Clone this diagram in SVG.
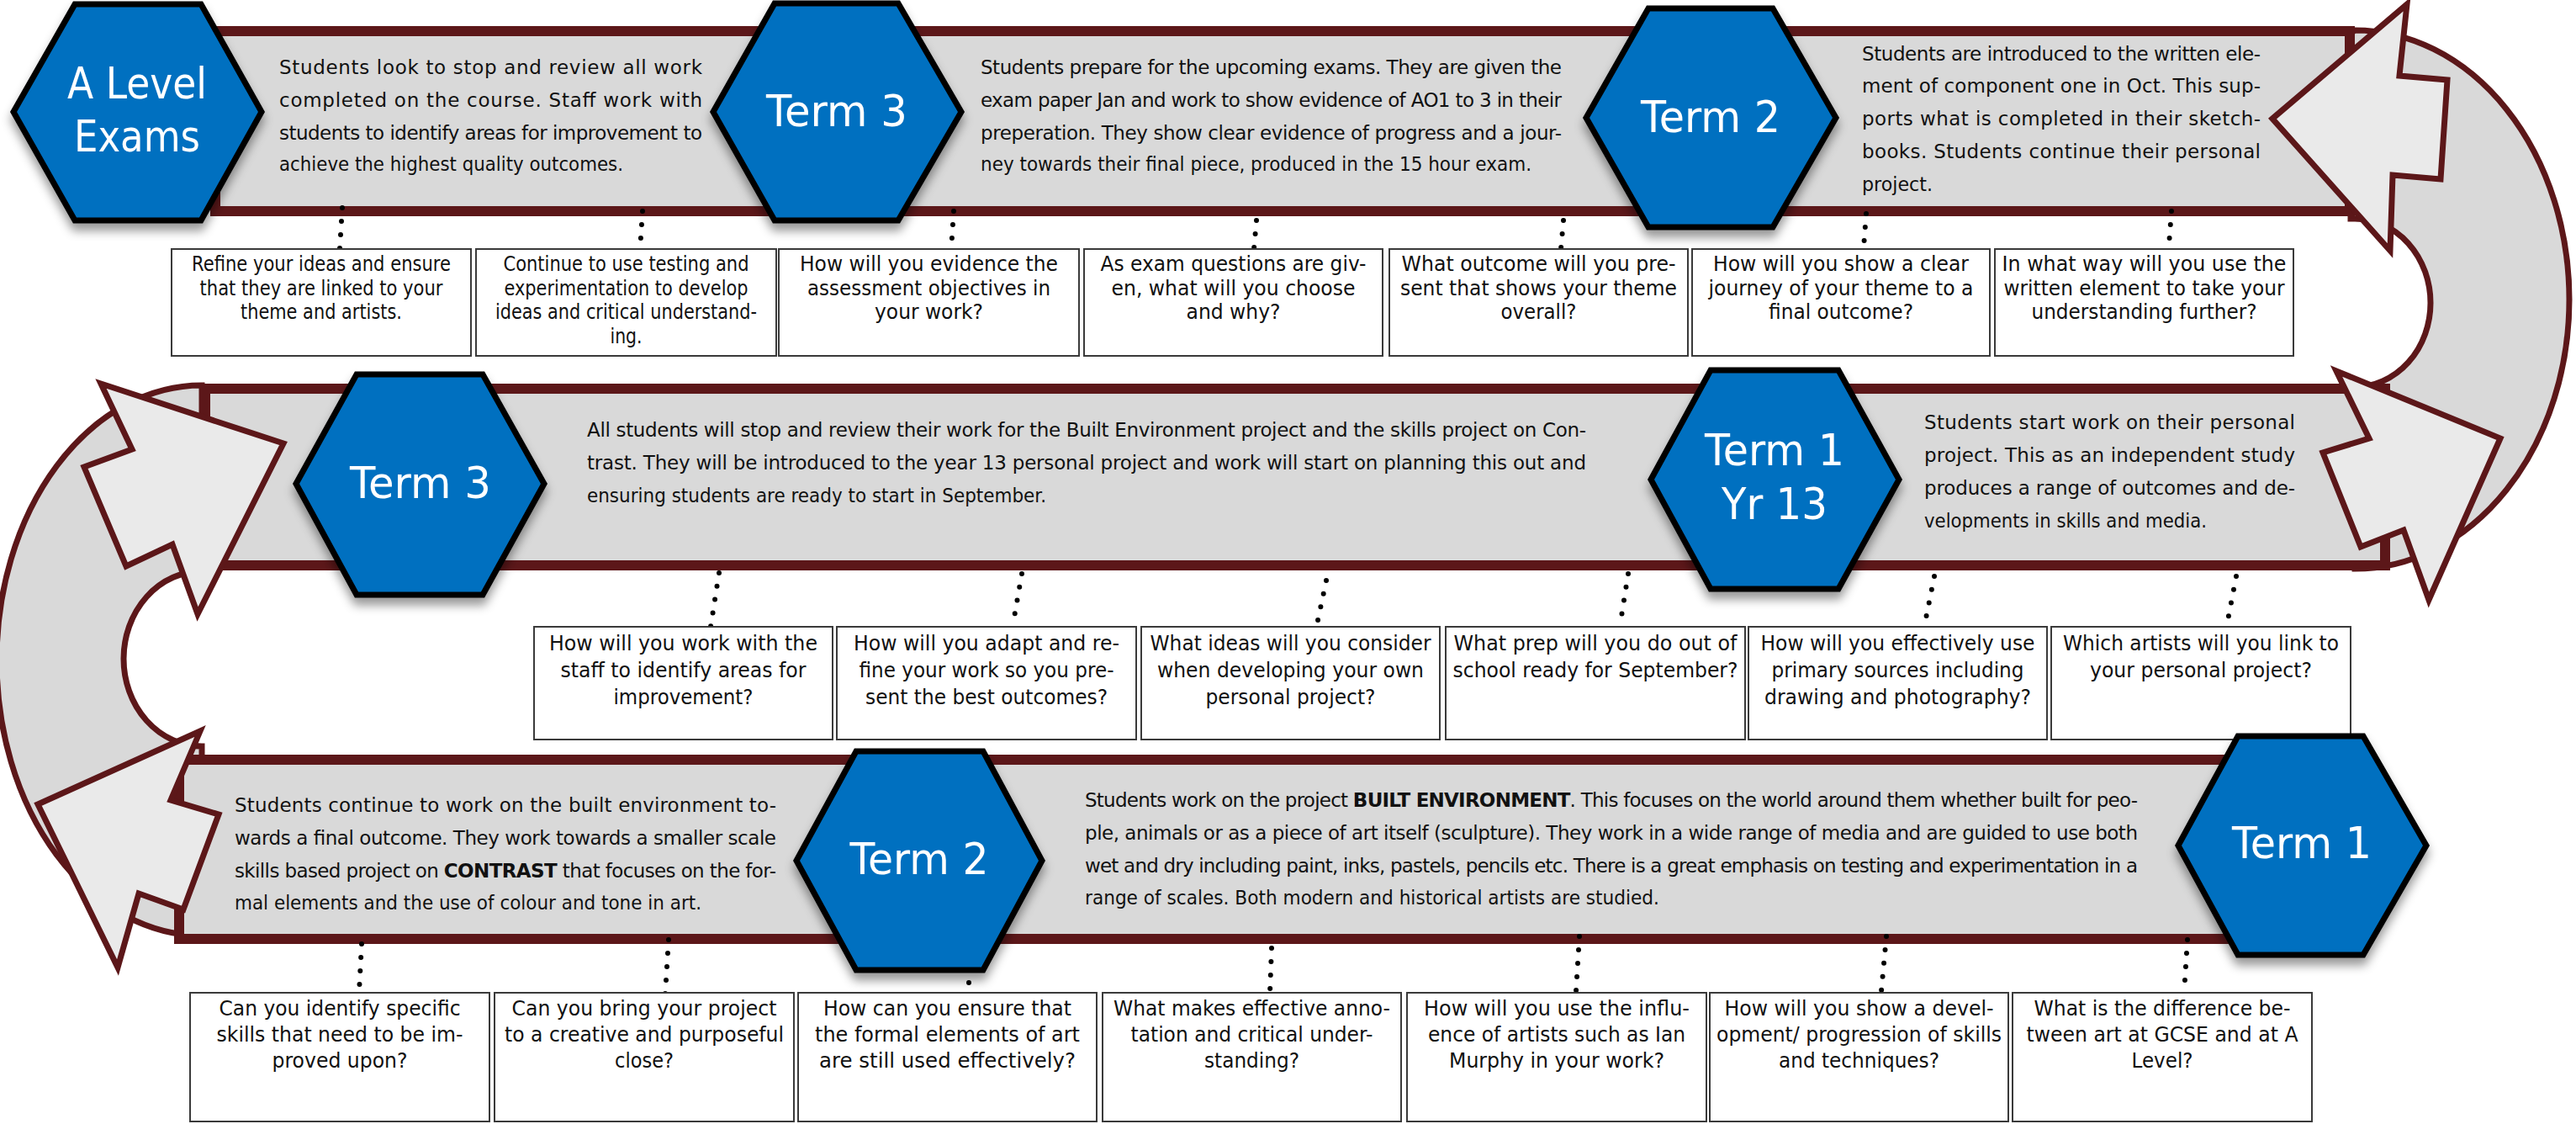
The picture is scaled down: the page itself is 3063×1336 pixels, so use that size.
<svg xmlns="http://www.w3.org/2000/svg" width="3063" height="1336" viewBox="0 0 3063 1336">
<defs>
<style>
.band{fill:#D9D9D9;stroke:#5C1719;stroke-width:12}
.curve{fill:#D9D9D9;stroke:#5C1719;stroke-width:7}
.arrow{fill:#EAEAEA;stroke:#5C1719;stroke-width:7;stroke-linejoin:miter}
.hex{fill:#0070C0;stroke:#000;stroke-width:7;filter:url(#sh)}
.ht{font-family:'DejaVu Sans','Liberation Sans',sans-serif;font-size:52px;fill:#fff;text-anchor:middle}
.bt text{font-family:'DejaVu Sans','Liberation Sans',sans-serif;font-size:23px;fill:#111}
.box{fill:#fff;stroke:#3a3a3a;stroke-width:2}
.q text{font-family:'DejaVu Sans','Liberation Sans',sans-serif;font-size:25px;fill:#111;text-anchor:middle}
.dots{stroke:#000;stroke-width:6;stroke-linecap:round;stroke-dasharray:0 16;fill:none}
</style>
<filter id="sh" x="-20%" y="-20%" width="140%" height="150%">
<feDropShadow dx="0" dy="9" stdDeviation="6" flood-color="#000" flood-opacity="0.4"/>
</filter>
</defs>
<rect width="3063" height="1336" fill="#fff"/>

<g id="curves">
<path class="curve" d="M 2795,40 L 2800,36 A 255,320 0 0 1 2800,676 L 2800,460 A 90,100 0 0 0 2800,260 L 2795,260 Z"/>
<path class="curve" d="M 240,458 A 244,327 0 0 0 240,1112 L 240,887 A 93,104 0 0 1 240,679 Z"/>
</g>

<g id="row1-band"><rect class="band" x="256" y="37" width="2538" height="214"/></g>
<g id="row2-band"><rect class="band" x="244" y="462" width="2592" height="210"/></g>
<g id="row3-band"><rect class="band" x="213" y="903" width="2441" height="213"/></g>

<g id="text-alevel" class="bt">
<text x="332" y="88" textLength="503" lengthAdjust="spacing">Students look to stop and review all work</text>
<text x="332" y="127" textLength="503" lengthAdjust="spacing">completed on the course.  Staff work with</text>
<text x="332" y="166" textLength="503" lengthAdjust="spacing">students to identify areas for improvement to</text>
<text x="332" y="203" textLength="409" lengthAdjust="spacingAndGlyphs">achieve the highest quality outcomes.</text>
</g>
<g id="text-term3-y13" class="bt">
<text x="1166" y="88" textLength="691" lengthAdjust="spacing">Students prepare for the upcoming exams.  They are given the</text>
<text x="1166" y="127" textLength="691" lengthAdjust="spacing">exam paper Jan and work to show evidence of AO1 to 3 in their</text>
<text x="1166" y="166" textLength="691" lengthAdjust="spacing">preperation.  They show clear evidence of progress and a jour-</text>
<text x="1166" y="203" textLength="655" lengthAdjust="spacingAndGlyphs">ney towards their final piece, produced in the 15 hour exam.</text>
</g>
<g id="text-term2-y13" class="bt">
<text x="2214" y="72" textLength="474" lengthAdjust="spacing">Students are introduced to the written ele-</text>
<text x="2214" y="110" textLength="474" lengthAdjust="spacing">ment of component one in Oct.  This sup-</text>
<text x="2214" y="149" textLength="474" lengthAdjust="spacing">ports what is completed in their sketch-</text>
<text x="2214" y="188" textLength="474" lengthAdjust="spacing">books.  Students continue their personal</text>
<text x="2214" y="227" textLength="84" lengthAdjust="spacingAndGlyphs">project.</text>
</g>
<g id="text-term3-y12" class="bt">
<text x="698" y="519" textLength="1188" lengthAdjust="spacing">All students will stop and review their work for the Built Environment project and the skills project on Con-</text>
<text x="698" y="558" textLength="1188" lengthAdjust="spacing">trast.   They will be introduced to the year 13 personal project and work will start on planning this out and</text>
<text x="698" y="597" textLength="546" lengthAdjust="spacingAndGlyphs">ensuring students are ready to start in September.</text>
</g>
<g id="text-term1-y13" class="bt">
<text x="2288" y="510" textLength="441" lengthAdjust="spacing">Students start work on their personal</text>
<text x="2288" y="549" textLength="441" lengthAdjust="spacing">project.   This as an independent study</text>
<text x="2288" y="588" textLength="441" lengthAdjust="spacing">produces a range of outcomes and de-</text>
<text x="2288" y="627" textLength="336" lengthAdjust="spacingAndGlyphs">velopments in skills and media.</text>
</g>
<g id="text-term2-y12" class="bt">
<text x="279" y="965" textLength="644" lengthAdjust="spacing">Students continue to work on the built environment to-</text>
<text x="279" y="1004" textLength="644" lengthAdjust="spacing">wards a final outcome.  They work towards a smaller scale</text>
<text x="279" y="1043" textLength="644" lengthAdjust="spacing">skills based project on <tspan font-weight="bold">CONTRAST</tspan> that focuses on the for-</text>
<text x="279" y="1081" textLength="555" lengthAdjust="spacingAndGlyphs">mal elements and the use of colour and tone in art.</text>
</g>
<g id="text-term1-y12" class="bt">
<text x="1290" y="959" textLength="1252" lengthAdjust="spacing">Students work on the project <tspan font-weight="bold">BUILT ENVIRONMENT</tspan>.  This focuses on the world around them whether built for peo-</text>
<text x="1290" y="998" textLength="1252" lengthAdjust="spacing">ple, animals or as a piece of art itself (sculpture).  They work in a wide range of media and are guided to use both</text>
<text x="1290" y="1037" textLength="1252" lengthAdjust="spacing">wet and dry including paint, inks, pastels, pencils etc.  There is a great emphasis on testing and experimentation in a</text>
<text x="1290" y="1075" textLength="683" lengthAdjust="spacingAndGlyphs">range of scales.  Both modern and historical artists are studied.</text>
</g>

<g id="arrows">
<polygon class="arrow" points="2702,141 2862,5 2853,90 2910,95 2902,213 2845,208 2842,298"/>
<polygon class="arrow" points="2778,441 2973,521 2888,713 2858,630 2807,650 2762,538 2817,521"/>
<polygon class="arrow" points="120,456 337,527 235,730 205,647 150,673 100,555 157,534"/>
<polygon class="arrow" points="238,869 45,956 140,1150 165,1062 218,1081 260,968 203,951"/>
</g>

<g id="connectors" class="dots">
<line x1="407" y1="247" x2="404" y2="295"/>
<line x1="764" y1="251" x2="761" y2="297"/>
<line x1="1134" y1="251" x2="1131" y2="297"/>
<line x1="1494" y1="262" x2="1491" y2="296"/>
<line x1="1859" y1="262" x2="1856" y2="296"/>
<line x1="2219" y1="254" x2="2216" y2="294"/>
<line x1="2582" y1="251" x2="2579" y2="291"/>
<line x1="855" y1="681" x2="845" y2="745"/>
<line x1="1215" y1="682" x2="1204" y2="745"/>
<line x1="1577" y1="690" x2="1566" y2="742"/>
<line x1="1936" y1="682" x2="1926" y2="745"/>
<line x1="2300" y1="685" x2="2288" y2="745"/>
<line x1="2659" y1="685" x2="2649" y2="737"/>
<line x1="430" y1="1122" x2="427" y2="1179"/>
<line x1="795" y1="1117" x2="791" y2="1181"/>
<line x1="1155" y1="1104" x2="1152" y2="1168"/>
<line x1="1512" y1="1127" x2="1510" y2="1180"/>
<line x1="1878" y1="1113" x2="1874" y2="1178"/>
<line x1="2243" y1="1113" x2="2237" y2="1178"/>
<line x1="2601" y1="1117" x2="2597" y2="1180"/>
</g>

<g id="q-r1-1" class="q"><rect class="box" x="204" y="296" width="356" height="127"/>
<text x="382" y="322" textLength="308" lengthAdjust="spacingAndGlyphs">Refine your ideas and ensure</text>
<text x="382" y="350.5" textLength="289" lengthAdjust="spacingAndGlyphs">that they are linked to your</text>
<text x="382" y="379" textLength="192" lengthAdjust="spacingAndGlyphs">theme and artists.</text></g>
<g id="q-r1-2" class="q"><rect class="box" x="566" y="296" width="357" height="127"/>
<text x="744.5" y="322" textLength="292" lengthAdjust="spacingAndGlyphs">Continue to use testing and</text>
<text x="744.5" y="350.5" textLength="290" lengthAdjust="spacingAndGlyphs">experimentation to develop</text>
<text x="744.5" y="379" textLength="311" lengthAdjust="spacingAndGlyphs">ideas and critical understand-</text>
<text x="744.5" y="407.5" textLength="38" lengthAdjust="spacingAndGlyphs">ing.</text></g>
<g id="q-r1-3" class="q"><rect class="box" x="926" y="296" width="357" height="127"/>
<text x="1104.5" y="322" textLength="307" lengthAdjust="spacingAndGlyphs">How will you evidence the</text>
<text x="1104.5" y="350.5" textLength="289" lengthAdjust="spacingAndGlyphs">assessment objectives in</text>
<text x="1104.5" y="379" textLength="129" lengthAdjust="spacingAndGlyphs">your work?</text></g>
<g id="q-r1-4" class="q"><rect class="box" x="1289" y="296" width="355" height="127"/>
<text x="1466.5" y="322" textLength="316" lengthAdjust="spacingAndGlyphs">As exam questions are giv-</text>
<text x="1466.5" y="350.5" textLength="290" lengthAdjust="spacingAndGlyphs">en, what will you choose</text>
<text x="1466.5" y="379" textLength="112" lengthAdjust="spacingAndGlyphs">and why?</text></g>
<g id="q-r1-5" class="q"><rect class="box" x="1652" y="296" width="355" height="127"/>
<text x="1829.5" y="322" textLength="326" lengthAdjust="spacingAndGlyphs">What outcome will you pre-</text>
<text x="1829.5" y="350.5" textLength="329" lengthAdjust="spacingAndGlyphs">sent that shows your theme</text>
<text x="1829.5" y="379" textLength="90" lengthAdjust="spacingAndGlyphs">overall?</text></g>
<g id="q-r1-6" class="q"><rect class="box" x="2012" y="296" width="354" height="127"/>
<text x="2189" y="322" textLength="304" lengthAdjust="spacingAndGlyphs">How will you show a clear</text>
<text x="2189" y="350.5" textLength="315" lengthAdjust="spacingAndGlyphs">journey of your theme to a</text>
<text x="2189" y="379" textLength="172" lengthAdjust="spacingAndGlyphs">final outcome?</text></g>
<g id="q-r1-7" class="q"><rect class="box" x="2372" y="296" width="355" height="127"/>
<text x="2549.5" y="322" textLength="338" lengthAdjust="spacingAndGlyphs">In what way will you use the</text>
<text x="2549.5" y="350.5" textLength="334" lengthAdjust="spacingAndGlyphs">written element to take your</text>
<text x="2549.5" y="379" textLength="268" lengthAdjust="spacingAndGlyphs">understanding further?</text></g>

<g id="q-r2-1" class="q"><rect class="box" x="635" y="745" width="355" height="134"/>
<text x="812.5" y="773" textLength="319" lengthAdjust="spacingAndGlyphs">How will you work with the</text>
<text x="812.5" y="805" textLength="292" lengthAdjust="spacingAndGlyphs">staff to identify areas for</text>
<text x="812.5" y="836.5" textLength="166" lengthAdjust="spacingAndGlyphs">improvement?</text></g>
<g id="q-r2-2" class="q"><rect class="box" x="995" y="745" width="356" height="134"/>
<text x="1173" y="773" textLength="316" lengthAdjust="spacingAndGlyphs">How will you adapt and re-</text>
<text x="1173" y="805" textLength="303" lengthAdjust="spacingAndGlyphs">fine your work so you pre-</text>
<text x="1173" y="836.5" textLength="288" lengthAdjust="spacingAndGlyphs">sent the best outcomes?</text></g>
<g id="q-r2-3" class="q"><rect class="box" x="1357" y="745" width="355" height="134"/>
<text x="1534.5" y="773" textLength="334" lengthAdjust="spacingAndGlyphs">What ideas will you consider</text>
<text x="1534.5" y="805" textLength="317" lengthAdjust="spacingAndGlyphs">when developing your own</text>
<text x="1534.5" y="836.5" textLength="202" lengthAdjust="spacingAndGlyphs">personal project?</text></g>
<g id="q-r2-4" class="q"><rect class="box" x="1719" y="745" width="356" height="134"/>
<text x="1897" y="773" textLength="337" lengthAdjust="spacingAndGlyphs">What prep will you do out of</text>
<text x="1897" y="805" textLength="339" lengthAdjust="spacingAndGlyphs">school ready for September?</text></g>
<g id="q-r2-5" class="q"><rect class="box" x="2079" y="745" width="355" height="134"/>
<text x="2256.5" y="773" textLength="326" lengthAdjust="spacingAndGlyphs">How will you effectively use</text>
<text x="2256.5" y="805" textLength="300" lengthAdjust="spacingAndGlyphs">primary sources including</text>
<text x="2256.5" y="836.5" textLength="317" lengthAdjust="spacingAndGlyphs">drawing and photography?</text></g>
<g id="q-r2-6" class="q"><rect class="box" x="2439" y="745" width="356" height="134"/>
<text x="2617" y="773" textLength="328" lengthAdjust="spacingAndGlyphs">Which artists will you link to</text>
<text x="2617" y="805" textLength="264" lengthAdjust="spacingAndGlyphs">your personal project?</text></g>

<g id="q-r3-1" class="q"><rect class="box" x="226" y="1180" width="356" height="153"/>
<text x="404" y="1207" textLength="287" lengthAdjust="spacingAndGlyphs">Can you identify specific</text>
<text x="404" y="1238" textLength="293" lengthAdjust="spacingAndGlyphs">skills that need to be im-</text>
<text x="404" y="1269" textLength="161" lengthAdjust="spacingAndGlyphs">proved upon?</text></g>
<g id="q-r3-2" class="q"><rect class="box" x="588" y="1180" width="356" height="153"/>
<text x="766" y="1207" textLength="315" lengthAdjust="spacingAndGlyphs">Can you bring your project</text>
<text x="766" y="1238" textLength="332" lengthAdjust="spacingAndGlyphs">to a creative and purposeful</text>
<text x="766" y="1269" textLength="70" lengthAdjust="spacingAndGlyphs">close?</text></g>
<g id="q-r3-3" class="q"><rect class="box" x="949" y="1180" width="355" height="153"/>
<text x="1126.5" y="1207" textLength="295" lengthAdjust="spacingAndGlyphs">How can you ensure that</text>
<text x="1126.5" y="1238" textLength="315" lengthAdjust="spacingAndGlyphs">the formal elements of art</text>
<text x="1126.5" y="1269" textLength="305" lengthAdjust="spacingAndGlyphs">are still used effectively?</text></g>
<g id="q-r3-4" class="q"><rect class="box" x="1311" y="1180" width="355" height="153"/>
<text x="1488.5" y="1207" textLength="329" lengthAdjust="spacingAndGlyphs">What makes effective anno-</text>
<text x="1488.5" y="1238" textLength="288" lengthAdjust="spacingAndGlyphs">tation and critical under-</text>
<text x="1488.5" y="1269" textLength="113" lengthAdjust="spacingAndGlyphs">standing?</text></g>
<g id="q-r3-5" class="q"><rect class="box" x="1673" y="1180" width="356" height="153"/>
<text x="1851" y="1207" textLength="316" lengthAdjust="spacingAndGlyphs">How will you use the influ-</text>
<text x="1851" y="1238" textLength="306" lengthAdjust="spacingAndGlyphs">ence of artists such as Ian</text>
<text x="1851" y="1269" textLength="256" lengthAdjust="spacingAndGlyphs">Murphy in your work?</text></g>
<g id="q-r3-6" class="q"><rect class="box" x="2033" y="1180" width="355" height="153"/>
<text x="2210.5" y="1207" textLength="320" lengthAdjust="spacingAndGlyphs">How will you show a devel-</text>
<text x="2210.5" y="1238" textLength="339" lengthAdjust="spacingAndGlyphs">opment/ progression of skills</text>
<text x="2210.5" y="1269" textLength="191" lengthAdjust="spacingAndGlyphs">and techniques?</text></g>
<g id="q-r3-7" class="q"><rect class="box" x="2393" y="1180" width="356" height="153"/>
<text x="2571" y="1207" textLength="305" lengthAdjust="spacingAndGlyphs">What is the difference be-</text>
<text x="2571" y="1238" textLength="323" lengthAdjust="spacingAndGlyphs">tween art at GCSE and at A</text>
<text x="2571" y="1269" textLength="73" lengthAdjust="spacingAndGlyphs">Level?</text></g>

<g id="hex-alevel"><polygon class="hex" points="16,133 89,5 239,5 311,133 239,262 89,262"/>
<text class="ht" x="163" y="117" textLength="166" lengthAdjust="spacingAndGlyphs">A Level</text>
<text class="ht" x="163" y="180" textLength="150" lengthAdjust="spacingAndGlyphs">Exams</text></g>
<g id="hex-term3-y13"><polygon class="hex" points="848,133 921,4 1068,4 1143,133 1068,262 921,262"/>
<text class="ht" x="995" y="150" textLength="168" lengthAdjust="spacingAndGlyphs">Term 3</text></g>
<g id="hex-term2-y13"><polygon class="hex" points="1886,140 1960,10 2108,10 2183,140 2108,270 1960,270"/>
<text class="ht" x="2034" y="157" textLength="166" lengthAdjust="spacingAndGlyphs">Term 2</text></g>
<g id="hex-term3-y12"><polygon class="hex" points="352,575 424,445 574,445 647,575 574,707 424,707"/>
<text class="ht" x="500" y="592" textLength="168" lengthAdjust="spacingAndGlyphs">Term 3</text></g>
<g id="hex-term1-y13"><polygon class="hex" points="1963,570 2034,440 2186,440 2258,570 2186,700 2034,700"/>
<text class="ht" x="2110" y="553" textLength="166" lengthAdjust="spacingAndGlyphs">Term 1</text>
<text class="ht" x="2110" y="617" textLength="126" lengthAdjust="spacingAndGlyphs">Yr 13</text></g>
<g id="hex-term2-y12"><polygon class="hex" points="947,1023 1018,893 1169,893 1239,1023 1169,1153 1018,1153"/>
<text class="ht" x="1093" y="1039" textLength="165" lengthAdjust="spacingAndGlyphs">Term 2</text></g>
<g id="hex-term1-y12"><polygon class="hex" points="2590,1005 2661,875 2810,875 2885,1005 2810,1135 2661,1135"/>
<text class="ht" x="2737" y="1020" textLength="166" lengthAdjust="spacingAndGlyphs">Term 1</text></g>
</svg>
